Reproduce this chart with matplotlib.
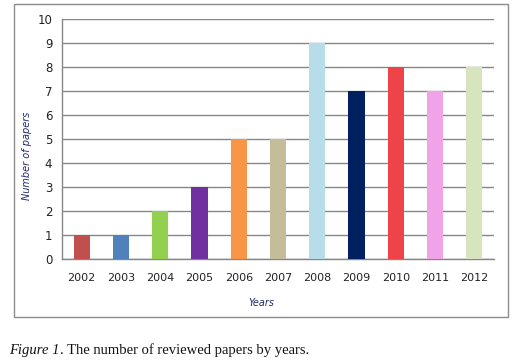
import matplotlib
matplotlib.use("Agg")
import matplotlib.pyplot as plt
from matplotlib.patches import Rectangle

years = ["2002", "2003", "2004", "2005", "2006", "2007", "2008", "2009", "2010", "2011", "2012"]
papers = [1, 1, 2, 3, 5, 5, 9, 7, 8, 7, 8]
colors = ["#C0504D", "#4F81BD", "#92D050", "#7030A0", "#F79646", "#C4BD97",
          "#B7DEE8", "#002060", "#EF434A", "#F0A3E8", "#D7E4BD"]
yticks = list(range(0, 11))

fig = plt.figure(figsize=(5.24, 3.62), dpi=100)
fig.patch.set_facecolor("white")

# outer chart frame
fig.patches.append(Rectangle((14/524, 1-317/362), (508-14)/524, (317-4)/362,
                             transform=fig.transFigure, fill=False,
                             edgecolor="#8C8C8C", linewidth=1.0))

ax = fig.add_axes([62/524, 1-259/362, (494-62)/524, (259-19)/362])
x = list(range(len(years)))
ax.bar(x, papers, width=0.41, color=colors, zorder=3)
ax.set_xlim(-0.5, len(years)-0.5)
ax.set_ylim(0, 10)
ax.set_yticks(yticks)
ax.set_yticklabels([str(t) for t in yticks])
ax.set_xticks(x)
ax.set_xticklabels(years)
ax.yaxis.grid(True, color="#868686", linewidth=1.0, zorder=0)
ax.set_axisbelow(True)
for s in ["top", "right"]:
    ax.spines[s].set_visible(False)
for s in ["left", "bottom"]:
    ax.spines[s].set_color("#868686")
    ax.spines[s].set_linewidth(1.0)
ax.tick_params(axis="x", length=0, pad=10, labelsize=8, colors="#222222")
ax.tick_params(axis="y", length=0, pad=7, labelsize=8.5, labelcolor="#222222")

fig.text(27/524, 1-156/362, "Number of papers", rotation=90, ha="center", va="center",
         fontsize=7, style="italic", color="#1F2A6B")
fig.text(261/524, 1-303/362, "Years", ha="center", va="center",
         fontsize=7, style="italic", color="#1F2A6B")

t1 = fig.text(9/524, 1-354/362, "Figure 1", ha="left", va="baseline", fontsize=10.5,
              family="Liberation Serif", style="italic", color="#111111")
fig.canvas.draw()
bb = t1.get_window_extent(renderer=fig.canvas.get_renderer())
x2 = bb.x1 / fig.bbox.width
fig.text(x2, 1-354/362, ". The number of reviewed papers by years.", ha="left", va="baseline",
         fontsize=10.5, family="Liberation Serif", color="#111111")

fig.savefig("out.png", dpi=100)
